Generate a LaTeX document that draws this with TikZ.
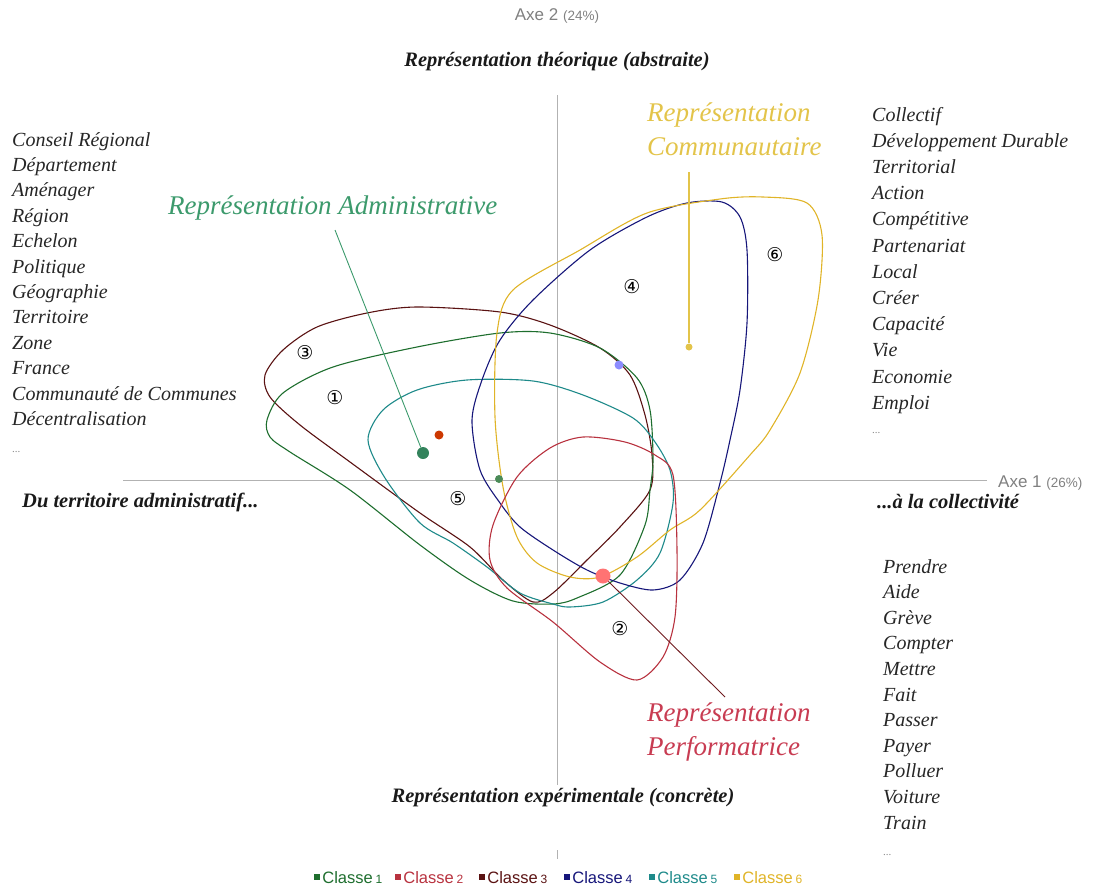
\documentclass[tikz,border=0pt]{standalone}
\usepackage{fontspec}
\setmainfont{Liberation Serif}
\newfontfamily\axefont{Liberation Sans}
\newfontfamily\numfont{DejaVu Sans}
\definecolor{clsA}{HTML}{1E6E2E}
\definecolor{clsB}{HTML}{B8323F}
\definecolor{clsC}{HTML}{5A1212}
\definecolor{clsD}{HTML}{16167A}
\definecolor{clsE}{HTML}{1E8A8A}
\definecolor{clsF}{HTML}{E0B428}
\definecolor{adminGreen}{HTML}{3C9A6C}
\definecolor{commYellow}{HTML}{E3C44A}
\definecolor{perfRed}{HTML}{C83C52}
\begin{document}
\begin{tikzpicture}[x=1pt,y=-1pt,
    word/.style={font=\fontsize{20}{20}\selectfont\itshape, text=black!85, inner sep=0pt, anchor=base west},
    more/.style={font=\fontsize{11}{11}\selectfont, text=black!45, inner sep=0pt, anchor=base west},
    pole/.style={font=\fontsize{20.5}{20.5}\selectfont\bfseries\itshape, text=black!90, inner sep=0pt},
    title/.style={font=\fontsize{27}{34}\selectfont\itshape, inner sep=0pt, align=left},
    axe/.style={font=\axefont\fontsize{17}{17}\selectfont, text=black!50, inner sep=0pt},
    dot/.style={circle, inner sep=0pt},
    classnum/.style={font=\numfont\fontsize{19}{19}\selectfont, inner sep=0pt},
    axisline/.style={black!30, line width=0.8pt},
    classe/.style={line width=1.1pt},
    leader/.style={line width=0.9pt}]
\useasboundingbox (0,0) rectangle (1101,889);

% axes
\coordinate (yTop) at (557,95);
\coordinate (yBot) at (557,785);
\coordinate (xLeft) at (123,480);
\coordinate (xRight) at (987,480);
\draw[axisline] (yTop) -- (yBot);
\draw[axisline] (xLeft) -- (xRight);
\coordinate (tickTop) at (557,850);
\coordinate (tickBot) at (557,859);
\draw[axisline] (tickTop) -- (tickBot);
\node[axe] (axe2) at (557,16) {Axe 2 {\fontsize{13.5}{13.5}\selectfont(24\%)}};
\node[axe, anchor=west] (axe1) at (998,483) {Axe 1 {\fontsize{13.5}{13.5}\selectfont(26\%)}};

% poles
\node[pole] (poleTop) at (557,62) {Représentation théorique (abstraite)};
\node[pole] (poleBot) at (563,798) {Représentation expérimentale (concrète)};
\node[pole, anchor=west] (poleLeft) at (22,502) {Du territoire administratif...};
\node[pole, anchor=west] (poleRight) at (877,502) {...à la collectivité};

% word lists
\foreach \w [count=\i] in {Conseil Régional, Département, Aménager, Région, Echelon, Politique,
    Géographie, Territoire, Zone, France, Communauté de Communes, Décentralisation}
  \node[word] (wl\i) at (12,{146+25.4*(\i-1)}) {\w};
\node[more] (wlMore) at (12,452) {...};
\foreach \w [count=\i] in {Collectif, Développement Durable, Territorial, Action, Compétitive,
    Partenariat, Local, Créer, Capacité, Vie, Economie, Emploi}
  \node[word] (wr\i) at (872,{121+26.2*(\i-1)}) {\w};
\node[more] (wrMore) at (872,433) {...};
\foreach \w [count=\i] in {Prendre, Aide, Grève, Compter, Mettre, Fait, Passer, Payer,
    Polluer, Voiture, Train}
  \node[word] (wb\i) at (883,{573+25.6*(\i-1)}) {\w};
\node[more] (wbMore) at (883,855) {...};

% class contours
\draw[classe, clsC] plot[smooth cycle] coordinates {(265,375) (283,350) (317,327) (367,313)
    (417,307) (500,312) (550,325) (600,348) (630,375) (645,415) (652,455) (650,490) (620,527)
    (587,560) (553,593) (533,602) (503,580) (470,547) (420,513) (350,462) (300,425) (270,397)};
\draw[classe, clsA] plot[smooth cycle] coordinates {(267,420) (283,393) (333,367) (417,347)
    (500,333) (550,333) (600,348) (637,378) (650,410) (653,460) (650,490) (645,525) (620,575)
    (577,598) (553,604) (513,601) (470,580) (420,545) (350,490) (290,452) (270,437)};
\draw[classe, clsE] plot[smooth cycle] coordinates {(368,440) (383,410) (417,390) (467,380)
    (533,381) (583,395) (633,418) (655,442) (670,470) (673,503) (660,553) (637,580) (603,602)
    (570,607) (553,604) (520,593) (487,567) (453,543) (420,523) (385,478)};
\draw[classe, clsD] plot[smooth cycle] coordinates {(687,203) (722,202) (740,217) (747,250)
    (747,323) (740,390) (730,440) (720,483) (703,543) (680,580) (653,590) (620,583) (587,570)
    (553,550) (520,527) (500,503) (480,470) (472,420) (482,380) (500,340) (533,300) (590,250)
    (647,217)};
\draw[classe, clsF] plot[smooth cycle] coordinates {(763,197) (807,203) (822,235) (818,300)
    (800,373) (770,430) (750,455) (700,510) (670,530) (637,557) (600,577) (570,577) (537,563)
    (517,537) (503,487) (495,417) (497,333) (513,290) (580,250) (647,213) (720,199)};
\draw[classe, clsB] plot[smooth cycle] coordinates {(490,560) (493,525) (517,477) (550,448)
    (583,437) (625,442) (655,455) (673,475) (677,550) (675,617) (663,657) (637,680) (600,662)
    (553,622) (507,588)};

% class numbers
\node[classnum] (n1) at (335,398) {①};
\node[classnum] (n2) at (620,629) {②};
\node[classnum] (n3) at (305,353) {③};
\node[classnum] (n4) at (632,287) {④};
\node[classnum] (n5) at (458,499) {⑤};
\node[classnum] (n6) at (775,255) {⑥};

% centroids
\node[dot, fill=adminGreen!85!black, minimum size=12pt] (dAdmin) at (423,453) {};
\node[dot, fill=orange!55!red!80!black, minimum size=9pt] (dBrown) at (439,435) {};
\node[dot, fill=clsA!80!white, minimum size=8pt] (dDark) at (499,479) {};
\node[dot, fill=blue!45!white, minimum size=9pt] (dBlue) at (619,365) {};
\node[dot, fill=commYellow, minimum size=7pt] (dComm) at (689,347) {};
\node[dot, fill=red!55!white, minimum size=15pt] (dPerf) at (603,576) {};

% representations
\node[title, text=adminGreen, anchor=west] (tAdmin) at (168,208) {Représentation Administrative};
\node[title, text=commYellow, anchor=north west] (tComm) at (647,103) {Représentation\\Communautaire};
\node[title, text=perfRed, anchor=north west] (tPerf) at (647,703) {Représentation\\Performatrice};
\coordinate (adminTip) at (335,230);
\coordinate (commTip) at (689,172);
\coordinate (perfTip) at (725,697);
\draw[leader, adminGreen] (adminTip) -- (dAdmin);
\draw[leader, commYellow, line width=1.3pt] (commTip) -- (dComm);
\draw[leader, clsC!80!perfRed] (dPerf) -- (perfTip);

% legend
\foreach \c/\x [count=\i] in {clsA/317, clsB/398, clsC/482, clsD/567, clsE/652, clsF/737} {
  \node[fill=\c, minimum size=6pt, inner sep=0pt] (sq\i) at (\x,877) {};
  \node[anchor=base west, text=\c, inner sep=0pt, font=\axefont\fontsize{16.5}{16.5}\selectfont]
    (lg\i) at ([xshift=2pt]sq\i.east |- 0,883) {Classe\,{\fontsize{12}{12}\selectfont\i}};
}
\end{tikzpicture}
\end{document}
